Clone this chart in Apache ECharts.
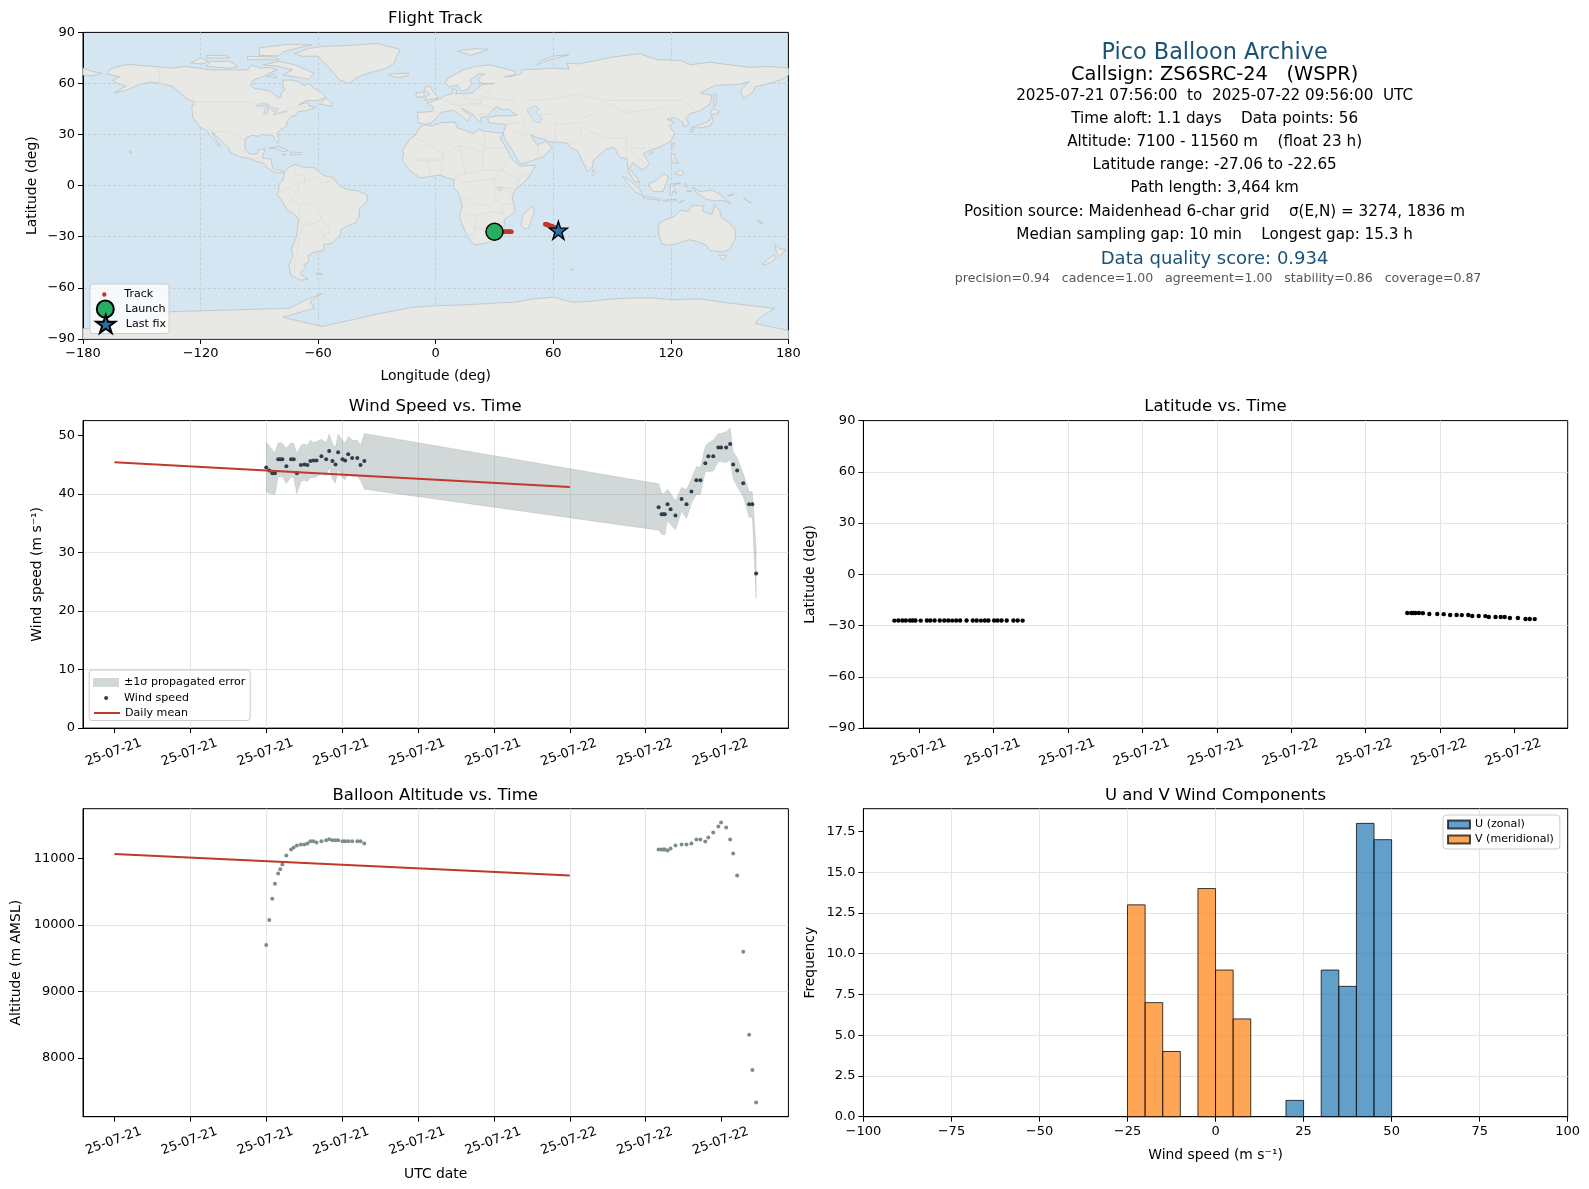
<!DOCTYPE html>
<html>
<head>
<meta charset="utf-8">
<script src="https://cdn.jsdelivr.net/npm/echarts@6/dist/echarts.min.js"></script>
<style>html,body{margin:0;padding:0;background:#fff}#c{width:1589px;height:1189px}</style>
</head>
<body>
<div id="c"></div>
<script>
// ---------- time series (hours since 2025-07-21 00:00 UTC) ----------
const hours = [8.00,8.16,8.32,8.46,8.63,8.74,8.85,9.06,9.31,9.45,9.62,9.83,10.01,10.17,10.33,10.49,10.65,10.91,11.16,11.32,11.49,11.65,11.79,12.02,12.16,12.32,12.53,12.80,12.97,13.17,
  28.68,28.84,28.93,29.01,29.15,29.31,29.57,29.89,30.15,30.41,30.67,30.88,31.14,31.30,31.56,31.83,31.97,32.24,32.45,32.61,32.82,33.14,33.45,33.62,33.82];
const windSpeed = [44.5,44.0,43.5,43.5,45.9,45.9,45.9,44.7,45.9,45.9,43.5,44.9,45.0,44.9,45.6,45.7,45.7,46.4,45.9,47.3,45.6,45.0,47.1,45.9,45.7,46.75,46.1,46.1,44.9,45.6,
  37.7,36.5,36.5,36.5,38.2,37.35,36.3,39.1,38.2,40.4,42.3,42.3,45.2,46.4,46.4,47.9,47.9,47.9,48.5,45.0,44.0,41.8,38.2,38.2,26.4];
const windUpper = [48.8,48.2,47.5,47.0,48.7,48.7,48.6,47.8,48.7,48.6,46.9,48.3,48.5,48.3,49.2,48.7,48.9,49.3,48.7,50.2,48.6,47.9,50.2,49.1,48.7,49.8,49.2,49.1,48.3,50.3,
  41.7,40.1,40.0,40.2,40.8,40.1,38.8,41.1,40.7,42.6,44.6,44.5,48.1,48.7,49.2,50.3,50.3,50.6,51.2,47.2,46.1,43.5,40.4,40.3,30.8];
const windLower = [40.3,40.1,40.0,39.9,42.9,42.9,42.9,41.7,42.9,42.7,40.0,42.1,42.3,42.1,42.7,42.8,42.9,43.5,43.1,44.5,42.5,41.8,44.1,42.7,42.4,43.6,43.0,43.0,42.3,40.8,
  33.8,33.1,33.0,33.0,35.5,34.7,33.9,37.0,35.8,38.4,39.9,39.9,43.8,43.8,43.9,45.5,45.5,45.3,45.8,42.6,41.2,39.5,36.0,36.0,22.1];
const altitude = [9700,10076,10394,10621,10773,10840,10909,11045,11136,11167,11197,11212,11212,11227,11258,11258,11242,11258,11273,11288,11273,11273,11273,11258,11258,11258,11258,11258,11258,11227,
  11136,11136,11136,11136,11121,11151,11196,11211,11211,11226,11286,11286,11256,11317,11392,11482,11543,11467,11286,11075,10744,9598,8347,7819,7330];
const latitude = [-27.06,-27.05,-27.05,-27.04,-27.04,-27.05,-27.05,-27.06,-27.05,-27.04,-27.05,-27.05,-27.04,-27.05,-27.06,-27.05,-27.05,-27.04,-27.05,-27.05,-27.06,-27.05,-27.04,-27.05,-27.05,-27.05,-27.04,-27.05,-27.05,-27.06,
  -22.65,-22.65,-22.65,-22.65,-22.65,-22.70,-23.24,-23.24,-23.30,-23.82,-23.82,-23.85,-23.82,-24.40,-24.40,-24.45,-24.99,-24.99,-24.95,-25.00,-25.58,-25.58,-26.16,-26.16,-26.20];
const longitude = [30.0,30.3,30.6,30.8,31.1,31.3,31.5,31.8,32.2,32.4,32.7,33.0,33.3,33.6,33.9,34.1,34.4,34.8,35.2,35.5,35.8,36.1,36.3,36.7,37.0,37.2,37.6,38.0,38.3,38.7,
  55.9,56.1,56.3,56.4,56.6,56.9,57.3,57.7,58.1,58.5,58.9,59.2,59.6,59.9,60.3,60.7,60.9,61.3,61.6,61.8,62.1,62.4,62.6,62.6,62.6];
const meanHours = [0,24];
const dailyMeanWind = [45.4,41.15];
const dailyMeanAlt = [11068,10745];

// ---------- histogram ----------
const binEdges = [-25,-20,-15,-10,-5,0,5,10,15,20,25,30,35,40,45,50];
const uCounts = [0,0,0,0,0,0,0,0,0,1,0,9,8,18,17];
const vCounts = [13,7,4,0,14,9,6,0,0,0,0,0,0,0,0];

// ---------- tick values ----------
const lonTicks = [-180,-120,-60,0,60,120,180];
const latTicksDeg = [-90,-60,-30,0,30,60,90];
const windTimeTicks = [0,4,8,12,16,20,24,28,32];
const latTimeTicks = [9,12,15,18,21,24,27,30,33];
const windValueTicks = [0,10,20,30,40,50];
const altValueTicks = [8000,9000,10000,11000];
const histXTicks = [-100,-75,-50,-25,0,25,50,75,100];
const histYTicks = [0,2.5,5,7.5,10,12.5,15,17.5];

// ---------- information panel ----------
const infoLines = [
  ['Pico Balloon Archive',1214.6,52.7,22.4,'#1a5276'],
  ['Callsign: ZS6SRC-24   (WSPR)',1214.6,75,19.4,'#000'],
  ['2025-07-21 07:56:00  to  2025-07-22 09:56:00  UTC',1214.6,96,15.2,'#000'],
  ['Time aloft: 1.1 days    Data points: 56',1214.6,119.4,15.2,'#000'],
  ['Altitude: 7100 - 11560 m    (float 23 h)',1214.6,141.7,15.2,'#000'],
  ['Latitude range: -27.06 to -22.65',1214.6,165,15.2,'#000'],
  ['Path length: 3,464 km',1214.6,188.3,15.2,'#000'],
  ['Position source: Maidenhead 6-char grid    σ(E,N) = 3274, 1836 m',1214.6,211.6,15.2,'#000'],
  ['Median sampling gap: 10 min    Longest gap: 15.3 h',1214.6,234.8,15.2,'#000'],
  ['Data quality score: 0.934',1214.6,259.2,18,'#1a5276'],
  ['precision=0.94   cadence=1.00   agreement=1.00   stability=0.86   coverage=0.87',1218.1,278.5,12.55,'#555'],
];

// ---------- land outlines, lon/lat ----------
const landPolygons = [
 // North America
 [[-168,65.5],[-166,68.5],[-162,70],[-156.5,71.3],[-150,70.5],[-141,69.7],[-135,69],[-128,70],[-124,69.5],[-115,68],[-108,68],[-100,68],[-96,68],[-94,71],[-90,69],[-85,69.5],[-81,68],[-85,66],[-87,64.5],[-93,62],[-94.5,59],[-92.5,57],[-88,56.5],[-84,55.3],[-82,53],[-80,51.5],[-79,52],[-79,54.5],[-77,56],[-78,58.5],[-78,62],[-73,62],[-70,61],[-67,58.5],[-65,60],[-62,57],[-58,54.5],[-56,52],[-60,50],[-66,50],[-70,47.5],[-65,49],[-65,47],[-61,46],[-66,44],[-70,43.5],[-71,41.5],[-74,40.5],[-76,37],[-76,35],[-79,33],[-81,31],[-80,27],[-80.5,25],[-82,27],[-83,29.5],[-85,29.7],[-89,30],[-90,29],[-94,29.5],[-97,28],[-97.5,24],[-97,21],[-95,18.5],[-91,18.7],[-90.5,21],[-87,21.5],[-88,18],[-88.5,16],[-84,15.7],[-83.5,12],[-83,10],[-80,9],[-77.5,8.7],[-78,7.5],[-80.5,7.5],[-83,8.3],[-85.5,10],[-87.5,13],[-92,14.5],[-95,16],[-100,17],[-105,19.5],[-105.5,22],[-109,26],[-112.5,30],[-114.5,31.5],[-112,27],[-109.8,23],[-112,25],[-115,29],[-117,32.5],[-120.5,34.5],[-124,40],[-124.5,46],[-123,49],[-127,51],[-131,55],[-134,58],[-140,60],[-146,61],[-152,59],[-158,56],[-164,54.5],[-158,58.5],[-162,60],[-165,62],[-161,64]],
 // Greenland
 [[-72,77.5],[-68,76],[-60,76],[-55,70],[-52,66],[-49,62],[-44,60],[-41,63],[-36,65.5],[-25,69],[-21,72],[-20,76],[-18,80],[-30,83.5],[-45,82.3],[-58,81.8],[-65,80.5]],
 // Arctic Canada
 [[-80,73],[-72,71],[-67,68.5],[-62,66],[-65,62.5],[-72,64],[-78,65],[-73,68],[-80,70],[-88,71]],
 [[-117,70],[-105,69],[-101,70],[-105,73],[-115,73]],
 [[-125,72],[-119,71.5],[-116,73],[-120,75]],
 [[-90,76.5],[-80,76.2],[-78,78.5],[-68,81.5],[-63,82.6],[-75,83],[-90,81]],
 [[-96,74],[-80,74],[-82,75.5],[-96,76]],
 [[-117,75],[-105,75],[-107,76.5],[-117,76.5]],
 [[-86,64],[-81,63.5],[-83,65.5]],
 // Newfoundland, Caribbean, Hawaii
 [[-59,47.7],[-53,46.7],[-53,48.5],[-56,51.5]],
 [[-85,22],[-80,23],[-75,20.5],[-78,20],[-82,22]],
 [[-74,19.7],[-69,19.5],[-68.5,18.5],[-74,18]],
 [[-78.3,18.4],[-76.3,18.2],[-77,17.8]],
 [[-156,19],[-155,19.7],[-156,20.5]],
 // South America
 [[-77,8],[-75,11],[-71.5,12.4],[-68,11],[-62,10.5],[-60,8.5],[-57,6],[-52,4.5],[-50,1],[-48,-1],[-44,-2.5],[-40,-3],[-35,-5.5],[-35,-9],[-39,-14],[-39,-18],[-41,-22],[-45,-23.5],[-48.5,-26],[-48.5,-28.5],[-53,-34],[-57,-34.5],[-57,-38],[-62,-39],[-65,-41],[-65,-45],[-67.5,-46.5],[-66,-48],[-69,-51],[-68.5,-52.5],[-65,-55],[-69,-55.5],[-74,-52.5],[-75,-47],[-73,-42],[-73.5,-37],[-71,-30],[-70,-20],[-72,-17],[-76,-14],[-79,-8],[-81,-5],[-80,-2.5],[-80,1],[-78,3]],
 [[-61,-51.5],[-58,-51.5],[-58.5,-52.3],[-61,-52]],
 // Africa
 [[-6,35.8],[-2,35],[3,37],[10,37.3],[11,34],[15,32.5],[19,30.5],[22,33],[25,32],[32,31],[34.5,31],[33,28],[35,24],[37,20],[39,15.5],[43,11.5],[51,12],[49,8],[46,3],[41,-2],[39,-6],[40,-12],[40.5,-15.5],[35,-20],[35,-24],[32.5,-26],[32,-29],[28,-33],[25,-34],[20,-34.8],[18,-33],[15,-27],[12,-18],[13.5,-12],[12,-5],[9,-1],[9.5,3.5],[6,4.5],[2,6.2],[-4,5.2],[-8,4.5],[-13,8.5],[-17,14.7],[-16.5,19],[-17,21],[-13,27.5],[-10,30],[-9,33]],
 [[49.3,-12],[50.4,-15.5],[47.5,-24.8],[45.5,-25.5],[43.5,-23],[44.5,-17]],
 // Eurasia
 [[-9,37],[-9.3,43],[-2,43.5],[-1,46],[-4.5,48.5],[2,51],[5,53],[8.5,54],[8.5,57],[11,56],[10,54],[14,54],[19,54.5],[21,57],[24,59.5],[30,60],[23,60],[21.5,63],[25,65.5],[22,65.8],[17.5,62],[18.5,60],[16.5,56.5],[13,55.5],[11,59],[7,58],[5,60],[6,63],[14,68],[20,70],[28,71],[31,70],[41,67],[40,65],[35,64],[38,64],[44,66],[44,68],[54,68.5],[60,69],[68,68.5],[67,72],[73,71.5],[75,72],[82,73.5],[90,75.5],[104,77.5],[113,74],[125,73.5],[130,71],[140,72.5],[150,71],[160,69.5],[170,70],[180,69],[180,65],[177,62.5],[170,60],[163,58],[162,55],[157,51],[155.5,56],[160,61],[155,59.5],[143,59],[135,54.5],[141,53],[140,48],[135,44],[130,42.5],[127.5,39.5],[129.5,36],[126.5,34.5],[126,37.5],[122,40],[118,39],[122,37],[119,35],[122,31],[120,26],[114,22.5],[110,21],[106,19],[109,13],[106,9],[104.5,10],[100.5,13.5],[99,10],[103,4],[104,1.5],[101,3],[98.5,8],[97.5,16],[94,16.5],[91,22.5],[87,21.5],[80.5,15],[80,11],[77.5,8],[73,19],[72,21],[69,22],[67,25],[61,25.5],[57,26],[56.5,27],[51,28.5],[48.5,30],[50,26.5],[52,24],[56,26],[59.5,22.5],[55,17],[45,13],[43,13],[39,21],[35,28],[34.5,31],[36,36],[30,36.5],[27,37],[26.5,40],[31,41],[38,41],[41.5,41.5],[37,45],[34,44.5],[31,46.5],[28,43],[26,40.5],[23,40],[23,37],[20,40],[19,42],[13,45.5],[18,40.5],[16,38],[12,42],[9,44.3],[3,43],[0,39.5],[-2,36.8],[-5.5,36]],
 [[-5.5,50],[1.5,51.5],[0,53.5],[-2,56],[-2,57.7],[-5,58.5],[-6,56],[-3,54],[-5,52]],
 [[-10,52],[-6,52],[-6,55],[-10,54.5]],
 [[-24,65.5],[-14,66],[-14,64.5],[-19,63.5],[-22.5,64]],
 [[11,79],[20,80.5],[27,80],[18,76.5]],
 [[52,71],[56,73],[68,77],[60,76],[53,73]],
 [[-180,69],[-175,67],[-170,66],[-175,64.5],[-180,65]],
 // East and South-East Asia
 [[130.5,34],[135,34],[140,35],[141.5,38],[141,41],[139.5,38],[135,35.8],[131,34.5]],
 [[140,42],[143,42],[145,43.5],[141.5,45.5]],
 [[130,33],[131.5,33.5],[131,31],[130,31.5]],
 [[142,46],[143.5,49],[143,54],[142,53],[142,48]],
 [[120.3,23],[121,25],[122,25],[121,22]],
 [[109,18.5],[110.5,20],[111,19.2],[110,18.2]],
 [[80,9.5],[81.8,7.5],[80.5,6],[79.8,7]],
 [[120,16],[120.5,18.5],[122,18.5],[122,16],[124,13],[121,13.5]],
 [[122,7],[125,9.5],[126.5,7.5],[125.5,5.8]],
 [[109,1.5],[111,2],[113,3.5],[116.5,7],[119,5],[117.5,1],[116,-3.5],[111,-3.5],[109.2,-1]],
 [[95.3,5.5],[98,4],[104,-2],[106,-5.8],[102,-4],[98,1.5]],
 [[105.5,-6.5],[108.5,-6.5],[114.5,-7.7],[114.5,-8.6],[106,-7.5]],
 [[119.5,-5.5],[120,1],[125,1.5],[121,0.3],[123,-4.5],[121,-3],[120.5,-5.5]],
 [[127.5,1.5],[128.5,-0.5],[128,-1]],
 [[128,-3],[130.5,-3],[130,-3.8]],
 [[116,-8.5],[123,-8],[123,-9],[116,-9]],
 [[124,-10],[127,-8.5],[125,-9.5]],
 [[131,-1],[135,-3.5],[141,-2.6],[145,-5],[148,-8],[150.5,-10.5],[146,-8.5],[143,-9],[138,-8],[133,-4]],
 [[149,-6],[152,-4.5],[152,-5.5]],
 [[157,-7],[161,-10],[160,-10]],
 // Oceania
 [[114,-22],[113.5,-26],[115,-34],[118,-35],[123.5,-34],[129,-31.7],[134,-33],[138,-35],[140,-38],[146,-39],[150,-37.5],[153,-31],[153,-26],[149,-21],[146,-19],[145,-15],[142.5,-11],[141,-17],[136,-15],[137,-12],[131,-11.5],[129,-15],[125,-14.5],[122,-18],[117,-20]],
 [[144.7,-40.7],[148.3,-41],[147,-43.5],[145.5,-42.8]],
 [[173,-34.5],[175.5,-37],[178.5,-37.7],[175.5,-41.5],[174,-39.5]],
 [[172.5,-40.7],[174,-42],[171,-45],[168,-46.7],[166.5,-46],[170,-43]],
 [[164,-20],[167,-22],[166,-22.2]],
 [[69,-49],[70.5,-49.2],[69.5,-49.8]],
 // Antarctica
 [[-180,-84],[-165,-84],[-150,-80],[-135,-74],[-103,-73],[-75,-72],[-66,-67],[-58,-63.3],[-64,-68],[-62,-72],[-78,-77.3],[-58,-82.7],[-28,-75],[-12,-71.5],[0,-70.5],[15,-70],[30,-69],[40,-68.5],[50,-66.5],[60,-65.5],[70,-68.5],[78,-68],[90,-66.5],[100,-66],[112,-66],[120,-67],[135,-66.5],[150,-69],[165,-71],[173,-72],[165,-78],[163,-81],[180,-85],[180,-90],[-180,-90]],
];
const inlandWaters = [
 [[47,45],[51,47],[53,45],[51,43],[54,40],[53.5,37],[50,37.5],[49,40],[47,43]],
 [[-92,46.7],[-88,48.5],[-85,47.5],[-85,46.5],[-88,46.7]],
 [[-87.8,42],[-86.3,42],[-85,45.8],[-87,45.5]],
 [[-84,46],[-80,45],[-82,43],[-83.5,44]],
 [[-82.5,42],[-79,42.8],[-76,43.5],[-79,43.3],[-83,41.5]],
 [[31,-1],[34,-1],[33.5,-2.8],[32,-2.5]],
];
const borderLines = [
 [[-141,69.7],[-141,60],[-135,59],[-130,55]],
 [[-123,49],[-95,49],[-89,48],[-83,46],[-82,42],[-79,43],[-75,45],[-70,46],[-67,47],[-67,45]],
 [[-117,32.5],[-108,31.5],[-106,31.5],[-101,29.5],[-97.5,26]],
 [[-92,14.5],[-91,17],[-89,18]],
 [[-70,-18],[-69,-11],[-74,-8],[-70,-4],[-70,2],[-67,1.5],[-64,4],[-60,5]],
 [[-60,5],[-59,1.5],[-54,2.5],[-51.5,4.5]],
 [[-69,-11],[-65,-10],[-60,-14],[-58,-20],[-55,-24],[-54,-27],[-57.5,-30],[-53,-33.5]],
 [[-70,-18],[-68,-23],[-70,-33],[-72,-45],[-72,-52]],
 [[-68,-23],[-62,-22],[-58,-20]],
 [[-62,-22],[-58,-27],[-57.5,-30]],
 [[-72,11],[-72,7],[-67,6],[-67,1.5]],
 [[-80,-3.5],[-75,-1],[-70,-4]],
 [[-13,27.5],[-8.7,27.5],[4,19],[12,23.5],[15,23],[24,19.5],[25,22],[25,32]],
 [[25,22],[36.5,22]],
 [[24,20],[24,9],[34,9],[36,14],[38,18]],
 [[12,23.5],[14,13],[15,7],[9,4.5]],
 [[4,19],[3,12],[3,6]],
 [[-12,15],[-5,15],[3,15]],
 [[-5,15],[-3,10],[-3,5]],
 [[15,7],[24,9]],
 [[14,2],[30,4],[34,9]],
 [[30,4],[30,-8],[28,-12],[22,-11],[12,-6]],
 [[41,-2],[34,-1],[30,-1]],
 [[34,-1],[39,-5]],
 [[40,-10.5],[34,-11],[30,-8]],
 [[34,-11],[34,-17],[30,-15],[22,-17],[12,-17]],
 [[22,-17],[20,-22],[20,-29],[17,-29]],
 [[20,-25],[25,-25],[29,-22],[32,-22],[32,-26]],
 [[34,9],[42,4],[48,8]],
 [[42,4],[41,-2]],
 [[-2,43.5],[3,43]],
 [[2,51],[8,49],[8,47.5],[13,47],[17,48],[23,48],[29,45.5]],
 [[14,54],[15,51],[23,50],[24,54],[28,56],[28,60]],
 [[23,50],[23,48]],
 [[23,42],[28,42]],
 [[20,40],[23,42]],
 [[30,51],[40,50],[38,47.5]],
 [[24,52],[30,51]],
 [[48,42],[48.5,46],[47,50],[61,51],[73,54],[85,50],[98,50],[107,50],[117,50],[127,50],[131,45],[130.5,42.5]],
 [[87,49],[97,43],[112,45],[119,47]],
 [[74,39],[80,42],[87,49]],
 [[74,39],[78,32],[88,28],[97,28],[98,24],[102,22],[107,22]],
 [[74,35],[74,30],[70,25],[68,24]],
 [[61,36],[74,37]],
 [[61,36],[61,25.5]],
 [[45,39],[45,33],[48,30]],
 [[60,42],[53,42]],
 [[36,36],[42,37],[45,39]],
 [[39,32],[47,29.5]],
 [[52,17],[52,24]],
 [[97,28],[97.5,16]],
 [[100,20],[105,15],[106,11]],
];

// ---------- styling ----------
const FONT = 'DejaVu Sans';
const STAR = 'path://M50 0 L61.8 36.3 L100 36.3 L69.1 58.8 L80.9 95.1 L50 72.7 L19.1 95.1 L30.9 58.8 L0 36.3 L38.2 36.3 Z';
const GRID_COLOR = '#e4e4e4';
const TEXT = '#000';

const pad2 = n => String(n).padStart(2,'0');
function dateLabel(h){
  const d = new Date(Date.UTC(2025,6,21) + h*3600e3);
  return String(d.getUTCFullYear()).slice(2)+'-'+pad2(d.getUTCMonth()+1)+'-'+pad2(d.getUTCDate());
}
const minus = v => String(v).replace('-','\u2212');

const panels = {
  map:  {left:83,  top:32.4,  width:705.4, height:306.5},
  wind: {left:83,  top:420.6, width:705.4, height:307.5},
  lat:  {left:863.4,top:420.6,width:704.3, height:307.5},
  alt:  {left:83,  top:808.7, width:705.4, height:308},
  hist: {left:863.4,top:808.7,width:704.3, height:308},
};
const gridOf = (p,extra)=>Object.assign({containLabel:false,show:true,borderColor:'#000',borderWidth:1,backgroundColor:'transparent'},p,extra||{});

function baseAxis(gridIndex,min,max,ticks,fmt,split){
  return {
    type:'value',gridIndex,min,max,
    axisLine:{show:true,onZero:false,lineStyle:{color:'#000',width:1}},
    axisTick:{show:true,length:5,customValues:ticks,lineStyle:{color:'#000',width:1}},
    axisLabel:{show:true,customValues:ticks,formatter:fmt,color:TEXT,fontFamily:FONT,fontSize:13,margin:8},
    splitLine:{show:true,showMinLine:false,showMaxLine:false,lineStyle:split||{color:GRID_COLOR,width:1}},
    nameTextStyle:{color:TEXT,fontFamily:FONT,fontSize:13.9},
  };
}
function timeAxis(gridIndex,min,max,ticks,name){
  const a = baseAxis(gridIndex,min,max,ticks,dateLabel);
  a.axisLabel = Object.assign(a.axisLabel,{rotate:20,align:'center',verticalAlign:'middle',margin:24,fontSize:12.9,padding:[0,2,0,0],hideOverlap:false});
  if(name){a.name=name;a.nameLocation='middle';a.nameGap=51;}
  return a;
}
function yName(a,name,gap){a.name=name;a.nameLocation='middle';a.nameGap=gap;a.nameRotate=90;return a;}
function xName(a,name,gap){a.name=name;a.nameLocation='middle';a.nameGap=gap;return a;}

const mapSplit = {color:'#c4c9cc',width:0.8,type:[3,2]};

const xAxes = [
  xName(baseAxis(0,-180,180,lonTicks,minus,mapSplit),'Longitude (deg)',30),
  timeAxis(1,-1.656,35.52,windTimeTicks),
  timeAxis(2,6.75,35.15,latTimeTicks),
  timeAxis(3,-1.656,35.52,windTimeTicks,'UTC date'),
  xName(baseAxis(4,-100,100,histXTicks,minus),'Wind speed (m s\u207B\u00B9)',32),
];
const yAxes = [
  yName(baseAxis(0,-90,90,latTicksDeg,minus,mapSplit),'Latitude (deg)',44),
  yName(baseAxis(1,0,52.5,windValueTicks,String),'Wind speed (m s\u207B\u00B9)',39),
  yName(baseAxis(2,-90,90,latTicksDeg,minus),'Latitude (deg)',46),
  yName(baseAxis(3,7116,11749,altValueTicks,String),'Altitude (m AMSL)',60),
  yName(baseAxis(4,0,18.9,histYTicks,v=>Number(v).toFixed(1)),'Frequency',46),
];

function pick(arr,ys){return arr.map((v,i)=>[v,ys[i]]);}
const lastIdx = hours.length-1;

// ---------- series ----------
const series = [];
// map
series.push({
  type:'custom',name:'_land',coordinateSystem:'cartesian2d',xAxisIndex:0,yAxisIndex:0,silent:true,z:1,
  data:landPolygons.map((p,i)=>[i]),encode:{x:-1,y:-1},
  renderItem(params,api){
    const pts = landPolygons[api.value(0)].map(c=>api.coord(c));
    return {type:'polygon',shape:{points:pts},style:{fill:'#e8e8e4',stroke:'#bcc2c5',lineWidth:0.8}};
  }
});
series.push({
  type:'custom',name:'_water',coordinateSystem:'cartesian2d',xAxisIndex:0,yAxisIndex:0,silent:true,z:1.1,
  data:inlandWaters.map((p,i)=>[i]),encode:{x:-1,y:-1},
  renderItem(params,api){
    const pts = inlandWaters[api.value(0)].map(c=>api.coord(c));
    return {type:'polygon',shape:{points:pts},style:{fill:'#d4e6f1',stroke:'#bcc2c5',lineWidth:0.6}};
  }
});
series.push({
  type:'custom',name:'_borders',coordinateSystem:'cartesian2d',xAxisIndex:0,yAxisIndex:0,silent:true,z:1.2,
  data:borderLines.map((p,i)=>[i]),encode:{x:-1,y:-1},
  renderItem(params,api){
    const pts = borderLines[api.value(0)].map(c=>api.coord(c));
    return {type:'polyline',shape:{points:pts},style:{fill:null,stroke:'#dcdcd8',lineWidth:0.8}};
  }
});
series.push({type:'scatter',name:'Track',xAxisIndex:0,yAxisIndex:0,z:3,symbolSize:4.5,itemStyle:{color:'#c0392b',opacity:1},data:pick(longitude,latitude),silent:true});
series.push({type:'scatter',name:'Launch',xAxisIndex:0,yAxisIndex:0,z:4,symbolSize:17,itemStyle:{color:'#27ae60',borderColor:'#000',borderWidth:1.5,opacity:1},data:[[longitude[0],latitude[0]]],silent:true});
series.push({type:'scatter',name:'Last fix',xAxisIndex:0,yAxisIndex:0,z:5,symbol:STAR,symbolSize:18,itemStyle:{color:'#2471a3',borderColor:'#000',borderWidth:1.4,opacity:1},data:[[longitude[lastIdx],latitude[lastIdx]]],silent:true});

// wind
const bandName = '\u00B11\u03C3 propagated error';
const bandFill = 'rgba(127,140,141,0.35)';
series.push({
  type:'custom',name:bandName,coordinateSystem:'cartesian2d',xAxisIndex:1,yAxisIndex:1,silent:true,z:2,
  itemStyle:{color:bandFill},
  data:hours.map((h,i)=>[h,windLower[i],windUpper[i]]),encode:{x:0,y:[1,2]},
  renderItem(params,api){
    if(params.dataIndex!==0) return null;
    const pts=[];
    hours.forEach((h,i)=>pts.push(api.coord([h,windUpper[i]])));
    for(let i=hours.length-1;i>=0;i--) pts.push(api.coord([hours[i],windLower[i]]));
    return {type:'polygon',shape:{points:pts},style:{fill:bandFill,stroke:'rgba(127,140,141,0.18)',lineWidth:1}};
  }
});
series.push({type:'scatter',name:'Wind speed',xAxisIndex:1,yAxisIndex:1,z:3,symbolSize:4,itemStyle:{color:'#2c3e50',opacity:1},data:pick(hours,windSpeed),silent:true});
series.push({type:'line',name:'Daily mean',xAxisIndex:1,yAxisIndex:1,z:4,showSymbol:false,symbol:'none',lineStyle:{color:'#c0392b',width:2},itemStyle:{color:'#c0392b'},data:pick(meanHours,dailyMeanWind),silent:true});

// latitude
series.push({type:'scatter',name:'_lat',xAxisIndex:2,yAxisIndex:2,z:3,symbolSize:4.4,itemStyle:{color:'#000',opacity:1},data:pick(hours,latitude),silent:true});

// altitude
series.push({type:'scatter',name:'_alt',xAxisIndex:3,yAxisIndex:3,z:3,symbolSize:4,itemStyle:{color:'#7f8c8d',opacity:1},data:pick(hours,altitude),silent:true});
series.push({type:'line',name:'_altMean',xAxisIndex:3,yAxisIndex:3,z:4,showSymbol:false,symbol:'none',lineStyle:{color:'#c0392b',width:2},data:pick(meanHours,dailyMeanAlt),silent:true});

// histogram
function histSeries(name,counts,fill){
  return {
    type:'custom',name,coordinateSystem:'cartesian2d',xAxisIndex:4,yAxisIndex:4,silent:true,z:3,
    itemStyle:{color:fill,borderColor:'rgba(0,0,0,0.7)',borderWidth:0.6},
    data:counts.map((c,i)=>[binEdges[i],binEdges[i+1],c]),encode:{x:[0,1],y:2},
    renderItem(params,api){
      if(!api.value(2)) return null;
      const a=api.coord([api.value(0),api.value(2)]),b=api.coord([api.value(1),0]);
      return {type:'rect',shape:{x:a[0],y:a[1],width:b[0]-a[0],height:b[1]-a[1]},style:{fill,stroke:'rgba(0,0,0,0.75)',lineWidth:1}};
    }
  };
}
series.push(histSeries('U (zonal)',uCounts,'rgba(31,119,180,0.7)'));
series.push(histSeries('V (meridional)',vCounts,'rgba(255,127,14,0.7)'));

// ---------- titles ----------
const plotTitle = (text,x,y)=>({text,left:x,top:y,textAlign:'center',textVerticalAlign:'middle',padding:0,
  textStyle:{fontFamily:FONT,fontSize:16.5,fontWeight:'normal',color:'#000'}});
const titles = [
  plotTitle('Flight Track',435.2,18.8),
  plotTitle('Wind Speed vs. Time',435.2,406.9),
  plotTitle('Latitude vs. Time',1215.5,406.9),
  plotTitle('Balloon Altitude vs. Time',435.2,796),
  plotTitle('U and V Wind Components',1215.5,796),
].concat(infoLines.map(l=>({text:l[0],left:l[1],top:l[2],textAlign:'center',textVerticalAlign:'middle',padding:0,
  textStyle:{fontFamily:FONT,fontSize:l[3],fontWeight:'normal',color:l[4]}})));

// ---------- legends ----------
const legendBase = {selectedMode:false,orient:'vertical',padding:0,z:6,
  textStyle:{fontFamily:FONT,fontSize:11.1,color:'#000'}};
const one = (name,left,cy,w,h,extra)=>Object.assign({},legendBase,{data:[name],left,top:cy-Math.max(h,8)/2,itemWidth:w,itemHeight:h},extra||{});
const legends = [
  one('Track',102,293,30,4.5),
  one('Launch',95.8,308,30,17),
  one('Last fix',95.3,323,30,18),
  one(bandName,93,681.5,26,9,{icon:'rect'}),
  one('Wind speed',104.1,696.5,26,4),
  one('Daily mean',93,711.5,26,2),
  Object.assign({},legendBase,{data:['U (zonal)','V (meridional)'],left:1443,top:815,padding:[4,6,4,4],itemWidth:22,itemHeight:8,itemGap:4,icon:'rect',
     backgroundColor:'rgba(255,255,255,0.85)',borderColor:'#ccc',borderWidth:1,borderRadius:3}),
];

const frame = (x,y,w,h)=>({type:'rect',z:5,silent:true,shape:{x,y,width:w,height:h,r:3},
  style:{fill:'rgba(255,255,255,0.8)',stroke:'#ccc',lineWidth:1}});

const chart = echarts.init(document.getElementById('c'),null,{renderer:'canvas',width:1589,height:1189});
chart.setOption({
  animation:false,
  backgroundColor:'#fff',
  textStyle:{fontFamily:FONT},
  title:titles,
  legend:legends,
  graphic:{elements:[frame(90,284,79,49.5),frame(89.2,670,161,50.5)]},
  grid:[
    gridOf(panels.map,{backgroundColor:'#d4e6f1'}),
    gridOf(panels.wind),gridOf(panels.lat),gridOf(panels.alt),gridOf(panels.hist)
  ],
  xAxis:xAxes,
  yAxis:yAxes,
  series
});
</script>
</body>
</html>
